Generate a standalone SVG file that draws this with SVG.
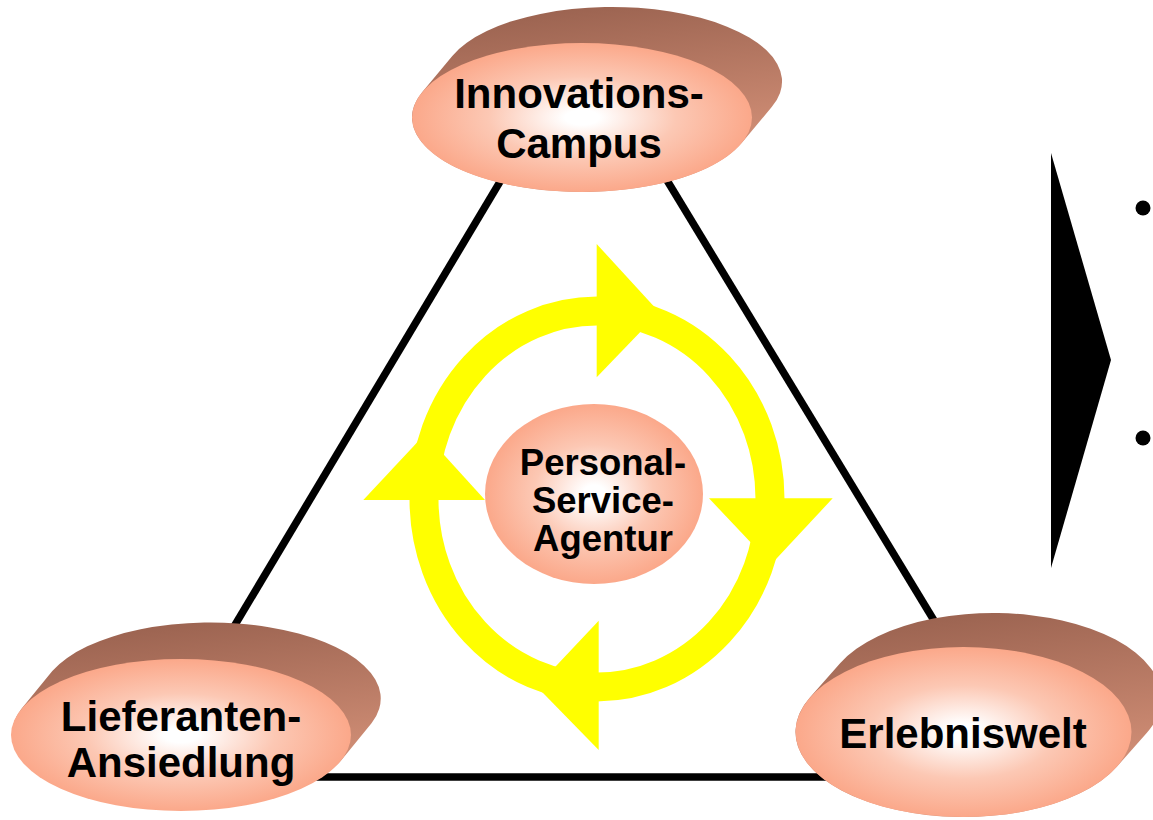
<svg xmlns="http://www.w3.org/2000/svg" width="1153" height="820" viewBox="0 0 1153 820">
  <defs>
    <radialGradient id="face" cx="0.5" cy="0.5" r="0.5">
      <stop offset="0" stop-color="#ffffff"/>
      <stop offset="0.1" stop-color="#ffffff"/>
      <stop offset="0.55" stop-color="#fcc8b4"/>
      <stop offset="1" stop-color="#fba88a"/>
    </radialGradient>
    <linearGradient id="side" x1="0" y1="0" x2="0.25" y2="1">
      <stop offset="0" stop-color="#955e4c"/>
      <stop offset="1" stop-color="#d8947b"/>
    </linearGradient>
  </defs>
  <style>
    .side { fill: url(#side); }
    .face { fill: url(#face); }
    .lbl { font-family: "Liberation Sans", Arial, sans-serif; font-weight: bold; fill: #000; text-anchor: middle; }
    .big { font-size: 42px; }
    .mid { font-size: 36.5px; }
    .edge { stroke: #000; stroke-width: 7.5; fill: none; }
    .ring { stroke: #ffff00; stroke-width: 29; fill: none; }
    .head { fill: #ffff00; }
  </style>
  <rect width="1153" height="820" fill="#ffffff"/>

  <g id="connectors">
    <line class="edge" x1="519" y1="150" x2="220" y2="650"/>
    <line class="edge" x1="648.6" y1="150" x2="958" y2="660"/>
    <line class="edge" x1="300" y1="777" x2="860" y2="777"/>
  </g>

  <g id="cycle">
    <ellipse class="ring" cx="597" cy="499" rx="173" ry="188"/>
    <polygon class="head" points="596.7,244 659.3,312.3 596.7,377.3"/>
    <polygon class="head" points="832.7,498.3 771.2,564.2 709,498.3"/>
    <polygon class="head" points="598.7,620.7 536.7,686.5 598.7,750"/>
    <polygon class="head" points="363.3,500 425,434 485,500"/>
  </g>

  <g id="node-personal">
    <ellipse class="face" cx="594" cy="494" rx="109" ry="90"/>
    <text class="lbl mid" x="603" y="475">Personal-</text>
    <text class="lbl mid" x="603" y="513">Service-</text>
    <text class="lbl mid" x="603" y="551">Agentur</text>
  </g>

  <g id="node-innovations">
    <path class="side" d="M452.3,55.9 A170,74.5 0 0 1 771.7,107.1 L741.7,143.1 A170,74.5 0 0 1 422.3,91.9 Z"/>
    <ellipse class="face" cx="582" cy="117.5" rx="170" ry="74.5"/>
    <text class="lbl big" x="579" y="108">Innovations-</text>
    <text class="lbl big" x="579" y="158">Campus</text>
  </g>

  <g id="node-lieferanten">
    <path class="side" d="M52.3,671 A170,76 0 0 1 371.7,723 L340.7,761 A170,76 0 0 1 21.3,709 Z"/>
    <ellipse class="face" cx="181" cy="735" rx="170" ry="76"/>
    <text class="lbl big" x="181" y="731">Lieferanten-</text>
    <text class="lbl big" x="181" y="777">Ansiedlung</text>
  </g>

  <g id="node-erlebniswelt">
    <path class="side" d="M840.1,663.3 A168,85 0 0 1 1146.9,732.7 L1116.9,766.7 A168,85 0 0 1 810.1,697.3 Z"/>
    <ellipse class="face" cx="963.5" cy="732" rx="168" ry="85"/>
    <text class="lbl big" x="963" y="748">Erlebniswelt</text>
  </g>

  <g id="pointer">
    <polygon points="1051,153 1111,360 1051,568" fill="#000"/>
    <circle cx="1143" cy="208" r="7.5" fill="#000"/>
    <circle cx="1143" cy="438" r="7.5" fill="#000"/>
  </g>
</svg>
